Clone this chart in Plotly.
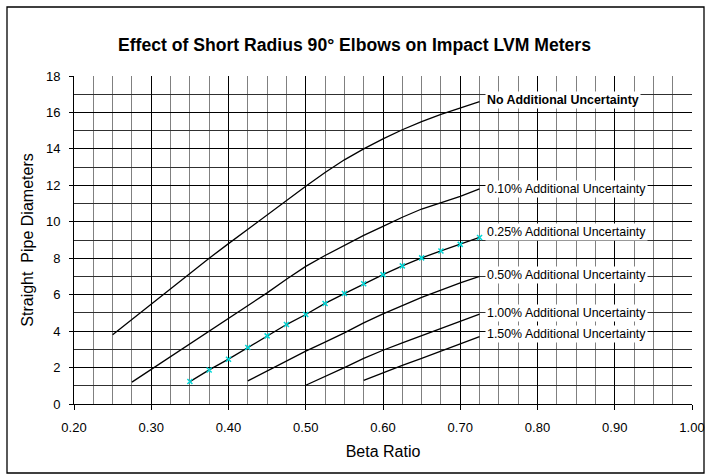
import plotly.graph_objects as go

# Beta ratio grid (step 0.025) and straight pipe diameters per uncertainty level
beta_none = [0.25, 0.275, 0.30, 0.325, 0.35, 0.375, 0.40, 0.425, 0.45, 0.475,
             0.50, 0.525, 0.55, 0.575, 0.60, 0.625, 0.65, 0.675, 0.70, 0.725]
diam_none = [3.8, 4.65, 5.5, 6.35, 7.15, 8.0, 8.8, 9.6, 10.4, 11.2,
             11.95, 12.7, 13.4, 14.0, 14.55, 15.05, 15.5, 15.9, 16.25, 16.6]

beta_010 = [0.275, 0.30, 0.325, 0.35, 0.375, 0.40, 0.425, 0.45, 0.475, 0.50,
            0.525, 0.55, 0.575, 0.60, 0.625, 0.65, 0.675, 0.70, 0.725]
diam_010 = [1.2, 1.9, 2.6, 3.3, 4.0, 4.7, 5.4, 6.1, 6.85, 7.55,
            8.15, 8.7, 9.25, 9.75, 10.25, 10.7, 11.05, 11.4, 11.8]

beta_025 = [0.35, 0.375, 0.40, 0.425, 0.45, 0.475, 0.50, 0.525,
            0.55, 0.575, 0.60, 0.625, 0.65, 0.675, 0.70, 0.725]
diam_025 = [1.23, 1.87, 2.46, 3.1, 3.74, 4.36, 4.91, 5.52,
            6.06, 6.6, 7.1, 7.58, 8.02, 8.4, 8.76, 9.14]

beta_050 = [0.425, 0.45, 0.475, 0.50, 0.525, 0.55, 0.575, 0.60,
            0.625, 0.65, 0.675, 0.70, 0.725]
diam_050 = [1.27, 1.82, 2.37, 2.9, 3.4, 3.9, 4.45, 4.95,
            5.4, 5.85, 6.25, 6.65, 7.0]

beta_100 = [0.50, 0.525, 0.55, 0.575, 0.60, 0.625, 0.65, 0.675, 0.70, 0.725]
diam_100 = [1.03, 1.5, 2.0, 2.5, 2.95, 3.35, 3.75, 4.15, 4.55, 4.93]

beta_150 = [0.575, 0.60, 0.625, 0.65, 0.675, 0.70, 0.725]
diam_150 = [1.3, 1.72, 2.12, 2.5, 2.9, 3.3, 3.7]

labels = [
    "<b>No Additional Uncertainty</b>",
    "0.10% Additional Uncertainty",
    "0.25% Additional Uncertainty",
    "0.50% Additional Uncertainty",
    "1.00% Additional Uncertainty",
    "1.50% Additional Uncertainty",
]

x_ticks = [0.2, 0.3, 0.4, 0.5, 0.6, 0.7, 0.8, 0.9, 1.0]
x_ticktext = ["0.20", "0.30", "0.40", "0.50", "0.60", "0.70", "0.80", "0.90", "1.00"]

FONT = "Liberation Sans, Arial, sans-serif"

series = [
    (beta_none, diam_none),
    (beta_010, diam_010),
    (beta_025, diam_025),
    (beta_050, diam_050),
    (beta_100, diam_100),
    (beta_150, diam_150),
]
label_shift = [2, 0, 5, 1, 1, 3]  # small pixel nudges so labels sit like the original

fig = go.Figure()

for i, (bx, dy) in enumerate(series):
    if i == 2:
        fig.add_trace(
            go.Scatter(
                x=bx, y=dy, mode="lines+markers",
                line=dict(color="black", width=1.3),
                marker=dict(symbol="x-thin", size=5,
                            line=dict(color="#00d8d8", width=1.5)),
            )
        )
    else:
        fig.add_trace(
            go.Scatter(x=bx, y=dy, mode="lines",
                       line=dict(color="black", width=1.3))
        )

annotations = []
for i, (bx, dy) in enumerate(series):
    annotations.append(
        dict(
            x=bx[-1], y=dy[-1], xref="x", yref="y",
            text=labels[i], showarrow=False,
            xanchor="left", yanchor="middle",
            xshift=5, yshift=label_shift[i],
            bgcolor="white", borderpad=1,
            font=dict(family=FONT, size=12.4, color="black"),
        )
    )

fig.update_layout(
    width=709,
    height=475,
    margin=dict(l=74, r=17, t=76, b=71),
    paper_bgcolor="white",
    plot_bgcolor="white",
    showlegend=False,
    title=dict(
        text="<b>Effect of Short Radius 90° Elbows on Impact LVM Meters</b>",
        x=0.5, xanchor="center", y=1 - 45 / 475, yanchor="middle",
        font=dict(family=FONT, size=17.6, color="black"),
    ),
    annotations=annotations,
    shapes=[
        dict(type="rect", xref="paper", yref="paper",
             x0=(7 - 74) / 618, x1=(704 - 74) / 618,
             y0=(404 - 473) / 328, y1=(404 - 7) / 328,
             line=dict(color="black", width=1.3), layer="below"),
    ],
    font=dict(family=FONT, size=13, color="black"),
)

fig.update_xaxes(
    range=[0.2, 1.0],
    automargin=False,
    tickvals=x_ticks,
    ticktext=x_ticktext,
    ticks="outside", ticklen=5, tickcolor="black",
    ticklabelstandoff=6,
    showgrid=True, gridcolor="black", gridwidth=1,
    minor=dict(dtick=0.025, showgrid=True, gridcolor="#808080", gridwidth=1.3),
    showline=True, linecolor="black", linewidth=1,
    zeroline=False,
    title=dict(text="Beta Ratio", font=dict(family=FONT, size=16), standoff=12),
    tickfont=dict(family=FONT, size=13),
)

fig.update_yaxes(
    range=[0, 18],
    automargin=False,
    dtick=2,
    ticks="outside", ticklen=4, tickcolor="black",
    ticklabelstandoff=6,
    showgrid=True, gridcolor="black", gridwidth=1,
    minor=dict(dtick=1, showgrid=True, gridcolor="#303030", gridwidth=1),
    showline=True, linecolor="black", linewidth=1,
    zeroline=False,
    title=dict(text="Straight  Pipe Diameters", font=dict(family=FONT, size=16), standoff=8),
    tickfont=dict(family=FONT, size=13),
)

# drop the default page margin so the chart sits at the window origin
fig.write_html(
    "out.html",
    config={"displayModeBar": False},
    post_script="document.body.style.margin='0';",
)
